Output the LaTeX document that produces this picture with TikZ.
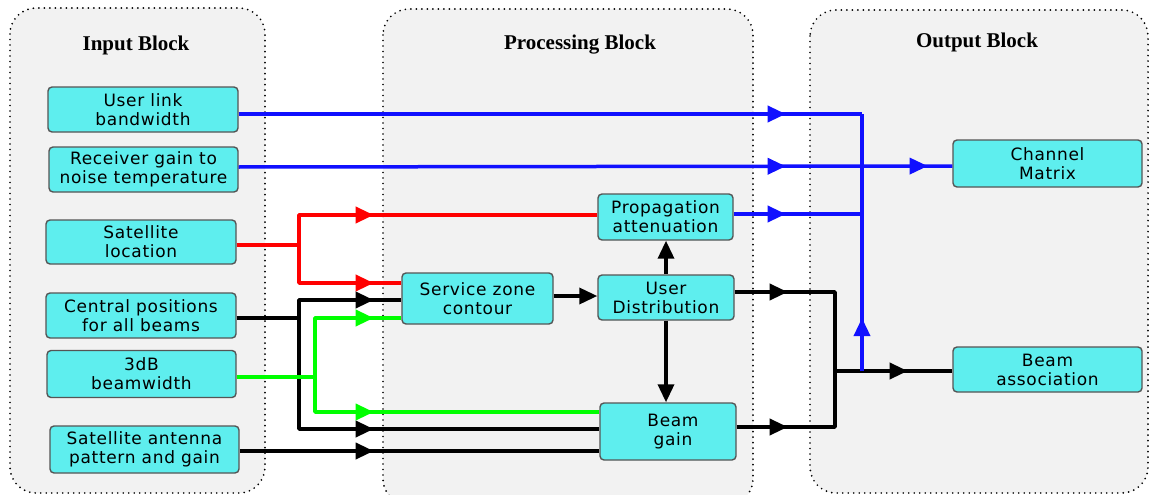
\documentclass[tikz,border=0pt]{standalone}
\usepackage{fontspec}
\setmainfont{Liberation Serif}
\newfontfamily\boxfont[LetterSpace=4]{DejaVu Sans}
\usetikzlibrary{arrows.meta,decorations.markings,calc}

\definecolor{boxfill}{RGB}{94,238,238}
\definecolor{boxline}{RGB}{85,85,85}
\definecolor{blockfill}{RGB}{242,242,242}
\definecolor{linkblue}{RGB}{16,16,255}
\definecolor{linkred}{RGB}{255,0,0}
\definecolor{linkgreen}{RGB}{0,255,0}

\tikzset{
  block/.style={draw=black, fill=blockfill, line width=1.9pt,
    dash pattern=on 0pt off 5.5pt, line cap=round, rounded corners=26pt},
  title/.style={font=\bfseries\fontsize{21}{24}\selectfont},
  unit/.style={draw=boxline, fill=boxfill, line width=1.4pt, rounded corners=4pt,
    inner sep=0pt, align=center, text=black,
    font=\boxfont\fontsize{17}{19}\selectfont},
  wire/.style={line width=3.5pt, line join=round},
  tipat/.style={postaction={decorate, decoration={markings,
    mark=at position #1 with {\arrow{Triangle[length=18pt,width=16pt]}}}}},
  endtip/.style={-{Triangle[length=18pt,width=16pt]}}
}

\begin{document}
\begin{tikzpicture}[x=1pt,y=-1pt]
\useasboundingbox (0,0) rectangle (1151,495);

% the three stage containers
\draw[block] (10,8) rectangle (265,493);
\draw[block] (383,9) rectangle (753,505);
\draw[block] (810,10) rectangle (1148,493);

\node[title] (tin) at (136,45) {Input Block};
\node[title] (tpr) at (580,45) {Processing Block};
\node[title] (tout) at (977,42) {Output Block};

% input parameters
\node[unit, minimum width=190pt, minimum height=45pt] (ul) at (143,109.5) {User link\\bandwidth};
\node[unit, minimum width=189pt, minimum height=45pt] (rg) at (143.5,169.5) {Receiver gain to\\noise temperature};
\node[unit, minimum width=190pt, minimum height=44pt] (sl) at (141,242) {Satellite\\location};
\node[unit, minimum width=190pt, minimum height=45pt] (cp) at (141,315.5) {Central positions\\for all beams};
\node[unit, minimum width=189pt, minimum height=47pt] (bw) at (141.5,374) {3dB\\beamwidth};
\node[unit, minimum width=189pt, minimum height=47pt] (sa) at (144.5,449.5) {Satellite antenna\\pattern and gain};

% processing steps
\node[unit, minimum width=135pt, minimum height=46pt] (pa) at (665.5,217) {Propagation\\attenuation};
\node[unit, minimum width=151pt, minimum height=51pt] (sz) at (477.5,298.5) {Service zone\\contour};
\node[unit, minimum width=136pt, minimum height=45pt] (ud) at (666,297.5) {User\\Distribution};
\node[unit, minimum width=136pt, minimum height=57pt] (bg) at (668,431.5) {\hspace*{10pt}Beam\\\hspace*{10pt}gain};

% outputs
\node[unit, minimum width=189pt, minimum height=47pt] (cm) at (1047.5,163.5) {Channel\\Matrix};
\node[unit, minimum width=189pt, minimum height=45pt] (ba) at (1047.5,369.5) {Beam\\association};

% branch points
\coordinate (rsplit) at (299,245);
\coordinate (ksplit) at (299,318);
\coordinate (gsplit) at (315,377);
\coordinate (osplit) at (835,371);
\coordinate (bsplit) at (862,371);
\coordinate (btop) at (862,114);
\coordinate (pout) at ([yshift=3pt]pa.east);

% satellite location
\draw[wire, linkred, tipat=167pt] ([yshift=-3pt]sl.east) -- (rsplit) |- ([yshift=2pt]pa.west);
\draw[wire, linkred, tipat=175pt] ([yshift=-3pt]sl.east) -- (rsplit) |- ([yshift=15.5pt]sz.west);

% central positions
\draw[wire, tipat=155pt] ([yshift=-2.5pt]cp.east) -- (ksplit) |- ([yshift=-1.5pt]sz.west);
\draw[wire, tipat=248pt] ([yshift=-2.5pt]cp.east) -- (ksplit) |- ([yshift=2.5pt]bg.west);

% antenna pattern
\draw[wire, tipat=134pt] ([yshift=-1.5pt]sa.east) -- ([yshift=-19.5pt]bg.west);

% beamwidth
\draw[wire, linkgreen, tipat=196pt] ([yshift=-3pt]bw.east) -- (gsplit) |- ([yshift=-19.5pt]sz.west);
\draw[wire, linkgreen, tipat=172pt] ([yshift=-3pt]bw.east) -- (gsplit) |- ([yshift=19.5pt]bg.west);

% inside the processing stage
\draw[wire, endtip] ([yshift=2.5pt]sz.east) -- ([yshift=1.5pt]ud.west);
\draw[wire, endtip] (ud.north) -- (ud.north |- pa.south);
\draw[wire, endtip] (ud.south) -- (ud.south |- bg.north);

% towards beam association
\draw[wire, tipat=53pt, tipat=252pt] ([yshift=5.5pt]ud.east) -| (osplit) -- ([yshift=-1.5pt]ba.west);
\draw[wire, tipat=51pt] ([yshift=4.5pt]bg.east) -| (osplit);

% towards channel matrix
\draw[wire, linkblue, tipat=547pt] ([yshift=-4.5pt]ul.east) -- (btop);
\draw[wire, linkblue, tipat=547pt, tipat=689pt] ([yshift=2.5pt]rg.east) -- ([yshift=-2.5pt]cm.west);
\draw[wire, linkblue, tipat=52pt] (pout) -- (pout -| btop);
\draw[wire, linkblue, tipat=53pt] (bsplit) -- (btop);
\end{tikzpicture}
\end{document}
